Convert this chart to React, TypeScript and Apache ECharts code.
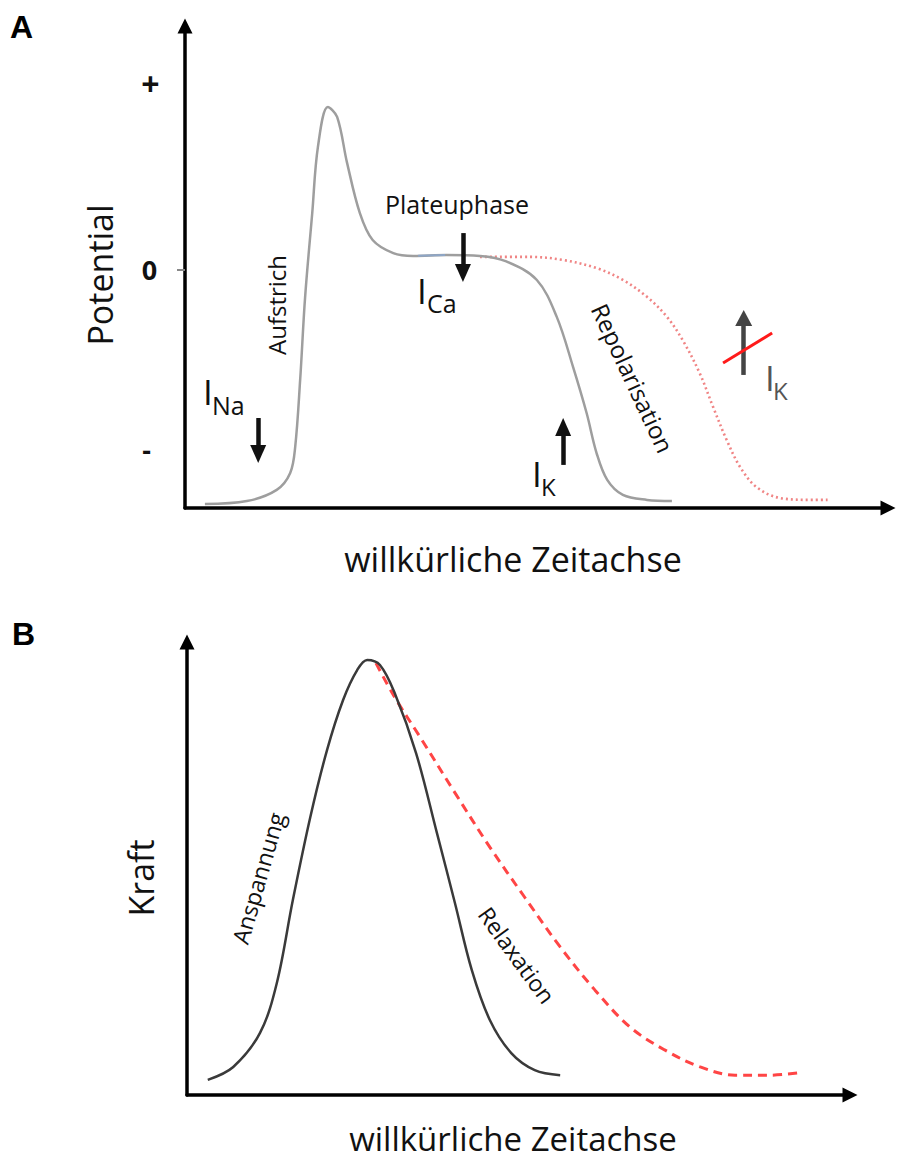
import React, { useEffect, useRef } from "react";
import * as echarts from "echarts";

// ---- Panel A: action potential (arbitrary time units / arbitrary potential units) ----
const apTime = [2.8, 8.7, 12.9, 14.8, 15.5, 16.2, 16.9, 17.9, 18.7, 20.1, 21.4, 22.8, 24.6, 26.4, 29.3, 32.1, 36.8, 41.5, 45.2, 49.5, 52.3, 54.6, 56.5, 57.9, 59.4, 61.6, 65.0, 68.5];
const apValue = [-98.3, -97.1, -92.4, -85.3, -74.4, -46.2, -11.3, 23.9, 51.7, 68.5, 64.3, 45.0, 23.9, 12.6, 7.1, 5.9, 6.3, 5.9, 3.6, -4.2, -19.7, -40.8, -60.1, -76.9, -88.2, -94.5, -96.6, -97.1];
const apLongTime = [41.5, 48.5, 53.2, 57.9, 61.6, 65.0, 67.8, 70.0, 72.4, 74.3, 76.2, 78.1, 80.4, 83.7, 88.3, 90.4];
const apLongValue = [5.5, 5.5, 4.2, 0.8, -4.2, -11.3, -19.7, -29.4, -43.3, -57.6, -71.4, -82.8, -91.2, -95.8, -96.6, -96.6];
const apBlueTime = [32.8, 36.6];
const apBlueValue = [6.0, 6.3];
const apTickValues = [78.5, 0, -74.4];
const apTickLabels = ["+", "0", "-"];

// arrows: [time, from, to]
const arrowNa = [10.3, -62.2, -77.3];
const arrowCa = [39.1, 15.5, -1.3];
const arrowK = [53.2, -81.9, -66.0];
const arrowKBlocked = [78.6, -44.1, -20.2];
const blockSlash = [[75.7, -39.1], [82.6, -26.5]];

// ---- Panel B: force ----
const forceTime = [3.1, 6.9, 10.9, 13.4, 15.8, 18.4, 20.9, 23.3, 25.4, 26.9, 28.8, 31.0, 34.2, 37.3, 40.0, 42.5, 45.2, 48.4, 51.9, 55.7];
const forceValue = [3.3, 6.1, 13.5, 24.3, 42.4, 60.4, 75.0, 85.9, 92.4, 94.6, 93.5, 87.4, 74.3, 57.0, 41.7, 27.2, 16.3, 9.1, 5.4, 4.3];
const forceSlowTime = [28.2, 31.0, 34.8, 40.0, 45.2, 50.4, 55.7, 60.9, 66.1, 71.3, 76.6, 81.8, 87.0, 91.3];
const forceSlowValue = [93.9, 86.5, 77.8, 65.7, 53.9, 43.0, 32.2, 22.8, 14.8, 9.8, 6.1, 4.3, 4.3, 4.8];

const FONT = "'Open Sans', 'Noto Sans', sans-serif";
const zip = (a: number[], b: number[]) => a.map((v, i) => [v, b[i]]);

function vArrow(a: number[], color: string, width: number, size: number[]) {
  return [
    { coord: [a[0], a[1]], symbol: "none" },
    { coord: [a[0], a[2]], symbol: "triangle", symbolSize: size, lineStyle: { color, width, type: "solid" } },
  ];
}

export default function App() {
  const ref = useRef<HTMLDivElement>(null);
  useEffect(() => {
    if (!ref.current) return;
    const chart = echarts.init(ref.current, null, { renderer: "svg" });
    const axisLine = {
      show: true,
      onZero: false,
      symbol: ["none", "triangle"],
      symbolSize: [15, 15],
      lineStyle: { color: "#000", width: 3.5 },
    };
    const txt = (text: string, x: number, y: number, size: number, extra: any = {}) => ({
      type: "text",
      x,
      y,
      rotation: extra.rotation || 0,
      style: {
        text,
        fontFamily: extra.fontFamily || FONT,
        fontSize: size,
        fontWeight: extra.fontWeight || "normal",
        fill: extra.fill || "#111",
        align: extra.align || "center",
        verticalAlign: "middle",
      },
    });
    const deg = Math.PI / 180;
    const graphics: any[] = [
      txt("A", 10, 27, 32, { align: "left", fontWeight: "bold", fontFamily: "'Liberation Sans', Arial, sans-serif", fill: "#000" }),
      txt("B", 12, 634, 32, { align: "left", fontWeight: "bold", fontFamily: "'Liberation Sans', Arial, sans-serif", fill: "#000" }),
      txt("Potential", 100, 275, 34, { rotation: 90 * deg }),
      txt("Aufstrich", 276, 305, 24, { rotation: 90 * deg }),
      txt("Plateuphase", 457, 204, 25),
      txt("Repolarisation", 633, 378, 24, { rotation: -65 * deg }),
      txt("willkürliche Zeitachse", 513, 559, 34),
      txt("I", 203, 391, 35, { align: "left" }),
      txt("Na", 212, 405, 25, { align: "left" }),
      txt("I", 417, 290, 35, { align: "left" }),
      txt("Ca", 427, 303, 25, { align: "left" }),
      txt("I", 532, 473, 35, { align: "left" }),
      txt("K", 541, 486, 24, { align: "left" }),
      txt("I", 765, 377, 35, { align: "left", fill: "#555" }),
      txt("K", 773, 390, 24, { align: "left", fill: "#555" }),
      txt("Kraft", 141, 878, 34, { rotation: 90 * deg }),
      txt("Anspannung", 258, 878, 23, { rotation: 74 * deg }),
      txt("Relaxation", 517, 955, 23, { rotation: -54 * deg }),
      txt("willkürliche Zeitachse", 513, 1138, 33),
    ];
    const option: any = {
      animation: false,
      backgroundColor: "#fff",
      grid: [
        { left: 185, top: 26, width: 703, height: 482 },
        { left: 187, top: 642, width: 663, height: 453 },
      ],
      xAxis: [
        { type: "value", gridIndex: 0, min: 0, max: 98.9, axisLine, axisTick: { show: false }, axisLabel: { show: false }, splitLine: { show: false } },
        { type: "value", gridIndex: 1, min: 0, max: 98.96, axisLine, axisTick: { show: false }, axisLabel: { show: false }, splitLine: { show: false } },
      ],
      yAxis: [
        {
          type: "value",
          gridIndex: 0,
          min: -100,
          max: 102.5,
          axisLine,
          axisTick: { show: true, customValues: [0], length: 8, lineStyle: { color: "#888", width: 2 } },
          axisLabel: { show: false },
          splitLine: { show: false },
        },
        { type: "value", gridIndex: 1, min: 0, max: 98.5, axisLine, axisTick: { show: false }, axisLabel: { show: false }, splitLine: { show: false } },
      ],
      series: [
        {
          type: "line",
          xAxisIndex: 0,
          yAxisIndex: 0,
          data: zip(apLongTime, apLongValue),
          smooth: 0.35,
          showSymbol: false,
          lineStyle: { color: "#f08585", width: 2.6, type: [2, 3] },
          z: 2,
        },
        {
          type: "line",
          xAxisIndex: 0,
          yAxisIndex: 0,
          data: zip(apTime, apValue),
          smooth: 0.35,
          showSymbol: false,
          lineStyle: { color: "#9e9e9e", width: 2.5 },
          z: 3,
          markLine: {
            silent: true,
            animation: false,
            label: { show: false },
            symbol: ["none", "triangle"],
            data: [
              vArrow(arrowNa, "#111", 4.5, [16, 18]),
              vArrow(arrowCa, "#111", 4.5, [16, 18]),
              vArrow(arrowK, "#111", 4.5, [16, 18]),
              vArrow(arrowKBlocked, "#444", 4.5, [17, 16]),
              [
                { coord: blockSlash[0], symbol: "none" },
                { coord: blockSlash[1], symbol: "none", lineStyle: { color: "#ff1a1a", width: 3, type: "solid" } },
              ],
            ],
          },
        },
        {
          type: "line",
          xAxisIndex: 0,
          yAxisIndex: 0,
          data: zip(apBlueTime, apBlueValue),
          showSymbol: false,
          lineStyle: { color: "#8ea6c6", width: 2 },
          z: 4,
        },
        {
          type: "line",
          xAxisIndex: 1,
          yAxisIndex: 1,
          data: zip(forceSlowTime, forceSlowValue),
          smooth: 0.35,
          showSymbol: false,
          lineStyle: { color: "#ff4545", width: 3, type: [9, 6] },
          z: 2,
        },
        {
          type: "line",
          xAxisIndex: 1,
          yAxisIndex: 1,
          data: zip(forceTime, forceValue),
          smooth: 0.35,
          showSymbol: false,
          lineStyle: { color: "#3a3a3a", width: 2.5 },
          z: 3,
        },
      ],
      graphic: graphics,
    };
    chart.setOption(option);
    // potential tick labels (+, 0, -) placed through the y axis scale
    const axisX = chart.convertToPixel({ xAxisIndex: 0 }, 0) as number;
    const tickTexts = apTickValues.map((v, i) => {
      const py = chart.convertToPixel({ yAxisIndex: 0 }, v) as number;
      const s = apTickLabels[i];
      const dx = s === "-" ? 38.5 : s === "0" ? 35.5 : 34.5;
      return txt(s, axisX - dx, py + (s === "-" ? 2 : 0), s === "+" ? 32 : 27, { fill: "#111", fontWeight: "bold" });
    });
    chart.setOption({ graphic: [...graphics, ...tickTexts] });
    return () => chart.dispose();
  }, []);
  return <div ref={ref} style={{ position: "absolute", left: 0, top: 0, width: 897, height: 1160 }} />;
}
